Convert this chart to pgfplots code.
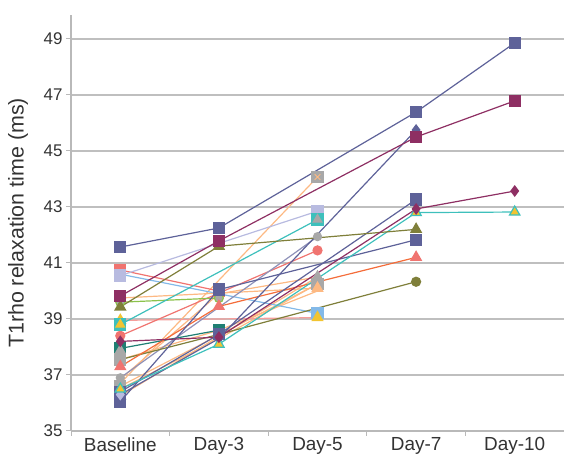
\documentclass[border=0pt]{standalone}
\usepackage{pgfplots}
\pgfplotsset{compat=1.18}
\usepackage{fontspec}
\setmainfont{Liberation Sans}
\definecolor{dblue}{HTML}{5E6299}
\definecolor{maroon}{HTML}{8E2F63}
\definecolor{olive}{HTML}{7F7F3A}
\definecolor{teal}{HTML}{3EC0BC}
\definecolor{yel}{HTML}{F2C431}
\definecolor{salmon}{HTML}{F07470}
\definecolor{peach}{HTML}{FDB983}
\definecolor{lav}{HTML}{B8BBE0}
\definecolor{lblue}{HTML}{83B9E8}
\definecolor{gr}{HTML}{A8A8A8}
\definecolor{ored}{HTML}{F46D3B}
\definecolor{grn}{HTML}{8CC24B}
\definecolor{tgreen}{HTML}{1F7F73}
\begin{document}
\begin{tikzpicture}[x=1bp,y=1bp]
\path[use as bounding box] (0,0) rectangle (564,456);
\begin{axis}[
  at={(71bp,25bp)}, anchor=south west,
  scale only axis, width=493bp, height=416bp,
  xmin=-0.5, xmax=4.5, ymin=35, ymax=49.857,
  axis x line=bottom, axis y line=left,
  axis line style={-, draw=gray!55, line width=1.2bp},
  xtick={0,1,2,3,4},
  xticklabels={Baseline,Day-3,Day-5,Day-7,Day-10},
  minor xtick={-0.5,0.5,1.5,2.5,3.5,4.5},
  major x tick style={draw=none},
  minor x tick style={draw=gray!55, line width=1bp},
  ytick={35,37,...,49},
  ymajorgrids, grid style={draw=gray!50, line width=1.2bp},
  major y tick style={draw=gray!55, line width=1bp},
  tick align=outside, major tick length=5bp, minor tick length=5bp,
  /pgf/number format/assume math mode=true,
  yticklabel style={font=\fontsize{17}{20}\selectfont, text=black!80},
  xticklabel style={font=\fontsize{19}{22}\selectfont, text=black!80, yshift=2bp},
  ylabel={T1rho relaxation time (ms)},
  ylabel style={font=\fontsize{21.5}{24}\selectfont, text=black!80, at={(axis description cs:-0.1075,0.5)}, anchor=center},
  every axis plot/.append style={line width=1.2bp},
  clip=false,
]
% light background lines
\addplot[peach, mark=none] coordinates {(0,36.7) (2,44.07)};
\addplot[peach, mark=none] coordinates {(0,36.5) (1,38.3) (2,40.25)};
\addplot[peach, mark=none] coordinates {(0,36.85) (1,39.9) (2,40.5)};
\addplot[peach, mark=none] coordinates {(0,37.55) (1,38.6) (2,40.0)};
\addplot[gr, mark=square*, mark size=5.5bp, mark options={fill=gr, draw=gr}, draw=peach] coordinates {(0,36.6) (2,40.25)};
\addplot[gr, mark=triangle*, mark size=6bp, mark options={fill=gr, draw=gr}, draw=peach] coordinates {(0,36.25) (2,40.5)};
\addplot[lblue, mark=square*, mark size=5.5bp, mark options={fill=lblue}] coordinates {(0,40.6) (2,39.2)};
\addplot[salmon!70, mark=triangle*, mark size=6bp, mark options={fill=yel, draw=yel}] coordinates {(0,38.95) (2,39.05)};
\addplot[salmon, mark=square*, mark size=5.5bp, mark options={fill=salmon}] coordinates {(0,40.75) (1,40.0)};
\addplot[lav, mark=square*, mark size=5.5bp, mark options={fill=lav}] coordinates {(0,40.55) (2,42.85)};
\addplot[peach, mark=triangle*, mark size=6bp, mark options={fill=peach}] coordinates {(0,39.75) (2,40.1)};
\addplot[salmon, mark=*, mark size=4.5bp, mark options={fill=salmon}] coordinates {(0,38.4) (2,41.45)};
\addplot[grn, mark=*, mark size=4.5bp, mark options={fill=gr, draw=grn}] coordinates {(0,39.6) (1,39.75)};
\addplot[gr!80!black, mark=*, mark size=4bp, mark options={fill=gr, draw=gr}, draw=dblue!70] coordinates {(0,36.9) (2,41.94)};
\addplot[teal, mark=square*, mark size=5.5bp, mark options={fill=teal}] coordinates {(0,38.8) (2,42.55)};
\addplot[only marks, mark=triangle*, mark size=5bp, mark options={fill=yel, draw=yel}] coordinates {(0,38.8)};
\addplot[only marks, mark=triangle*, mark size=5bp, mark options={fill=gr, draw=gr}] coordinates {(2,42.55)};
\addplot[tgreen, mark=square*, mark size=5.5bp, mark options={fill=tgreen}] coordinates {(0,37.95) (1,38.6)};
\addplot[only marks, mark=triangle*, mark size=5bp, mark options={fill=gr, draw=gr}] coordinates {(0,37.9)};
\addplot[olive, mark=*, mark size=4.5bp, mark options={fill=olive}] coordinates {(0,37.55) (1,38.45) (3,40.33)};
\addplot[only marks, mark=square*, mark size=5.5bp, mark options={fill=gr, draw=gr}] coordinates {(0,37.55)};
\addplot[ored, mark=triangle*, mark size=6bp, mark options={fill=salmon, draw=salmon}] coordinates {(0,37.3) (1,39.45) (3,41.2)};
\addplot[dblue, mark=square*, mark size=5.5bp, mark options={fill=dblue}] coordinates {(0,36.05) (1,40.05) (3,41.83)};
\addplot[dblue, mark=square*, mark size=5.5bp, mark options={fill=dblue}] coordinates {(0,36.4) (1,38.45) (3,43.27)};
\addplot[dblue, mark=diamond*, mark size=5bp, mark options={fill=dblue}] coordinates {(0,36.3) (1,38.3) (3,45.75)};
\addplot[only marks, mark=diamond*, mark size=5bp, mark options={fill=lav, draw=lav}] coordinates {(0,36.3)};
\addplot[teal, mark=triangle*, mark size=6bp, mark options={fill=yel, draw=teal}] coordinates {(0,36.5) (1,38.1) (3,42.8) (4,42.82)};
\addplot[olive, mark=triangle*, mark size=6bp, mark options={fill=olive}] coordinates {(0,39.43) (1,41.6) (3,42.2)};
\addplot[maroon, mark=diamond*, mark size=5bp, mark options={fill=maroon}] coordinates {(0,38.2) (1,38.35) (3,42.93) (4,43.57)};
\addplot[maroon, mark=square*, mark size=5.5bp, mark options={fill=maroon}] coordinates {(0,39.82) (1,41.79) (3,45.5) (4,46.79)};
\addplot[dblue, mark=square*, mark size=5.5bp, mark options={fill=dblue}] coordinates {(0,41.57) (1,42.25) (3,46.39) (4,48.86)};
\addplot[only marks, mark=square*, mark size=5.5bp, mark options={fill=gr, draw=gr}] coordinates {(2,44.07)};
\addplot[only marks, mark=x, mark size=4bp, mark options={draw=peach, line width=1bp}] coordinates {(2,44.07)};
\end{axis}
\end{tikzpicture}
\end{document}
